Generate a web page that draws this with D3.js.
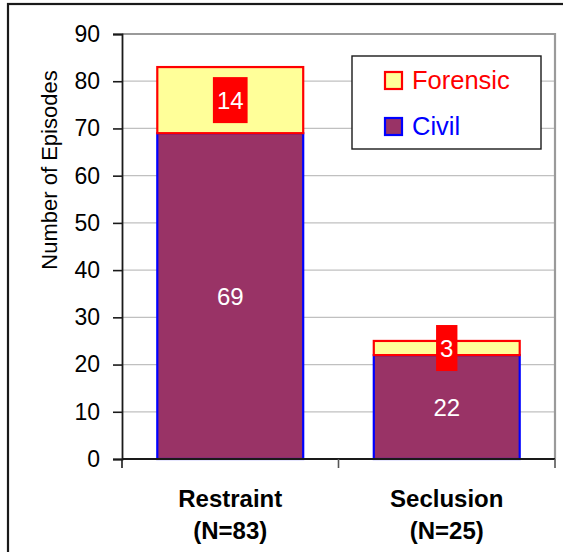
<!DOCTYPE html>
<html>
<head>
<meta charset="utf-8">
<script src="https://cdn.jsdelivr.net/npm/d3@7"></script>
<style>
  html, body { margin: 0; padding: 0; background: #fff; }
  svg { display: block; font-family: "Liberation Sans", Arial, sans-serif; }
</style>
</head>
<body>
<svg id="chart" width="563" height="552"></svg>
<script>
// Episodes by type of intervention, split by patient status
const categories = ["Restraint", "Seclusion"];
const categoryCounts = ["(N=83)", "(N=25)"];
const civil = [69, 22];
const forensic = [14, 3];
const seriesNames = ["Civil", "Forensic"];
const yTicks = [0, 10, 20, 30, 40, 50, 60, 70, 80, 90];
const yTitle = "Number of Episodes";

const fills = { Civil: "#993366", Forensic: "#FFFF99" };
const strokes = { Civil: "#0000FF", Forensic: "#FF0000" };

const svg = d3.select("#chart");
const W = 563, H = 552;
const plot = { left: 122, right: 555, top: 34, bottom: 459 };

// outer frame
svg.append("rect")
  .attr("x", 8).attr("y", 4)
  .attr("width", W + 20).attr("height", H + 20)
  .attr("fill", "#fff").attr("stroke", "#1a1a1a").attr("stroke-width", 2.2);

const x = d3.scaleBand()
  .domain(categories)
  .range([plot.left, plot.right])
  .paddingInner(0.326)
  .paddingOuter(0.163);

const y = d3.scaleLinear()
  .domain([0, 90])
  .range([plot.bottom, plot.top]);

// gridlines
svg.append("g")
  .selectAll("line")
  .data(yTicks.filter(t => t > 0 && t < 90))
  .join("line")
  .attr("x1", plot.left).attr("x2", plot.right)
  .attr("y1", d => y(d)).attr("y2", d => y(d))
  .attr("stroke", "#c0c0c0").attr("stroke-width", 1.3);

// plot area border (top and right)
svg.append("path")
  .attr("d", `M${plot.left},${y(90)}H${plot.right}V${plot.bottom}`)
  .attr("fill", "none").attr("stroke", "#9a9a9a").attr("stroke-width", 2.2);

// stacked bars
const rows = categories.map((c, i) => ({ category: c, Civil: civil[i], Forensic: forensic[i] }));
const stacked = d3.stack().keys(seriesNames)(rows);

const layers = svg.append("g")
  .selectAll("g")
  .data(stacked)
  .join("g")
  .attr("fill", d => fills[d.key])
  .attr("stroke", d => strokes[d.key])
  .attr("stroke-width", 2.2);

layers.selectAll("rect")
  .data(d => d.map(v => ({ v, key: d.key })))
  .join("rect")
  .attr("x", d => x(d.v.data.category))
  .attr("width", x.bandwidth())
  .attr("y", d => y(d.v[1]))
  .attr("height", d => y(d.v[0]) - y(d.v[1]));

// y axis
const yAxis = svg.append("g")
  .attr("transform", `translate(${plot.left},0)`)
  .call(d3.axisLeft(y).tickValues(yTicks).tickSize(9).tickPadding(13));
yAxis.select(".domain").attr("stroke", "#1a1a1a").attr("stroke-width", 1.8);
yAxis.selectAll(".tick line").attr("stroke", "#1a1a1a").attr("stroke-width", 1.6);
yAxis.selectAll(".tick text")
  .attr("font-size", 23).attr("fill", "#000")
  .attr("font-family", "'Liberation Sans', Arial, sans-serif");

// x axis line with ticks at category boundaries
const step = x.step();
const bounds = d3.range(categories.length + 1).map(i => plot.left + i * step);
const xAxis = svg.append("g");
xAxis.append("line")
  .attr("x1", plot.left).attr("x2", plot.right)
  .attr("y1", plot.bottom).attr("y2", plot.bottom)
  .attr("stroke", "#1a1a1a").attr("stroke-width", 1.8);
xAxis.selectAll("line.tk")
  .data(bounds)
  .join("line")
  .attr("class", "tk")
  .attr("x1", d => d).attr("x2", d => d)
  .attr("y1", plot.bottom).attr("y2", plot.bottom + 9)
  .attr("stroke", d => d === plot.left ? "#1a1a1a" : "#555")
  .attr("stroke-width", 1.6);

// category labels
const catLabels = xAxis.selectAll("text.cat")
  .data(categories)
  .join("text")
  .attr("class", "cat")
  .attr("text-anchor", "middle")
  .attr("font-size", 24).attr("font-weight", "bold").attr("fill", "#000");
catLabels.append("tspan")
  .attr("x", d => x(d) + x.bandwidth() / 2)
  .attr("y", 507)
  .text(d => d);
catLabels.append("tspan")
  .attr("x", d => x(d) + x.bandwidth() / 2)
  .attr("y", 539)
  .text((d, i) => categoryCounts[i]);

// y axis title
svg.append("text")
  .attr("transform", "translate(57,170) rotate(-90)")
  .attr("text-anchor", "middle")
  .attr("font-size", 22).attr("fill", "#000")
  .text(yTitle);

// value labels: Civil in the middle of its segment, Forensic on a red tag
const cx = c => x(c) + x.bandwidth() / 2;
svg.append("g")
  .selectAll("text")
  .data(categories.map((c, i) => ({ c, v: civil[i], mid: civil[i] / 2 })))
  .join("text")
  .attr("x", d => cx(d.c))
  .attr("y", d => y(d.mid))
  .attr("dy", "0.36em")
  .attr("text-anchor", "middle")
  .attr("font-size", 24).attr("fill", "#fff")
  .text(d => d.v);

const tags = svg.append("g")
  .selectAll("g")
  .data(categories.map((c, i) => ({ c, v: forensic[i], mid: civil[i] + forensic[i] / 2 })))
  .join("g")
  .attr("transform", d => `translate(${cx(d.c)},${y(d.mid)})`);
tags.append("text")
  .attr("class", "tagtext")
  .attr("text-anchor", "middle")
  .attr("dy", "0.36em")
  .attr("font-size", 24).attr("fill", "#fff")
  .text(d => d.v);
tags.each(function () {
  const g = d3.select(this);
  const bb = g.select("text").node().getBBox();
  g.insert("rect", "text")
    .attr("x", -bb.width / 2 - 4)
    .attr("y", -23)
    .attr("width", bb.width + 8)
    .attr("height", 46)
    .attr("fill", "#FF0000");
});

// legend
const legend = svg.append("g").attr("transform", "translate(352,56)");
legend.append("rect")
  .attr("width", 189).attr("height", 93)
  .attr("fill", "#fff").attr("stroke", "#1a1a1a").attr("stroke-width", 1.4);
const legendItems = ["Forensic", "Civil"];
const li = legend.selectAll("g.item")
  .data(legendItems)
  .join("g")
  .attr("class", "item")
  .attr("transform", (d, i) => `translate(33,${16 + i * 46})`);
li.append("rect")
  .attr("width", 17).attr("height", 17)
  .attr("fill", d => fills[d])
  .attr("stroke", d => strokes[d])
  .attr("stroke-width", 2.2);
li.append("text")
  .attr("x", 27).attr("y", 17)
  .attr("font-size", 25.5)
  .attr("fill", d => strokes[d])
  .text(d => d);
</script>
</body>
</html>
